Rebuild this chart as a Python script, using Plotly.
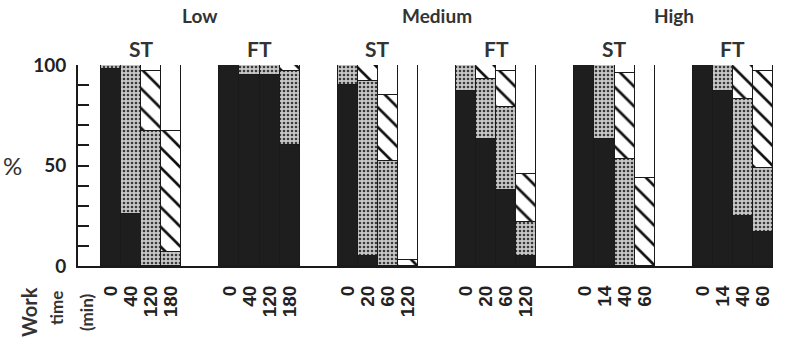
import plotly.graph_objects as go

# ---------------- data ----------------
levels = ["Low", "Medium", "High"]
fibres = ["ST", "FT"]
times_low = ["0", "40", "120", "180"]
times_med = ["0", "20", "60", "120"]
times_high = ["0", "14", "40", "60"]

# percent of fibres in each glycogen class (bottom -> top): dark, stippled, hatched, empty
low_st_dark = [98, 26, 0, 0]
low_st_dots = [2, 74, 67, 7]
low_st_hatch = [0, 0, 30, 60]
low_st_empty = [0, 0, 3, 33]

low_ft_dark = [100, 95, 95, 60]
low_ft_dots = [0, 5, 5, 37]
low_ft_hatch = [0, 0, 0, 3]
low_ft_empty = [0, 0, 0, 0]

med_st_dark = [90, 5, 0, 0]
med_st_dots = [10, 87, 52, 0]
med_st_hatch = [0, 8, 33, 3]
med_st_empty = [0, 0, 15, 97]

med_ft_dark = [87, 63, 38, 5]
med_ft_dots = [13, 30, 41, 17]
med_ft_hatch = [0, 7, 18, 24]
med_ft_empty = [0, 0, 3, 54]

high_st_dark = [100, 63, 0, 0]
high_st_dots = [0, 37, 53, 0]
high_st_hatch = [0, 0, 43, 44]
high_st_empty = [0, 0, 4, 56]

high_ft_dark = [100, 87, 25, 17]
high_ft_dots = [0, 13, 58, 32]
high_ft_hatch = [0, 0, 17, 48]
high_ft_empty = [0, 0, 0, 3]

y_ticks = list(range(0, 101, 10))
y_labels = ["0", "", "", "", "", "50", "", "", "", "", "100"]

panels = [
    (times_low, low_st_dark, low_st_dots, low_st_hatch, low_st_empty),
    (times_low, low_ft_dark, low_ft_dots, low_ft_hatch, low_ft_empty),
    (times_med, med_st_dark, med_st_dots, med_st_hatch, med_st_empty),
    (times_med, med_ft_dark, med_ft_dots, med_ft_hatch, med_ft_empty),
    (times_high, high_st_dark, high_st_dots, high_st_hatch, high_st_empty),
    (times_high, high_ft_dark, high_ft_dots, high_ft_hatch, high_ft_empty),
]

# ---------------- layout helpers ----------------
PITCH = 5.9          # panel pitch in bar widths
W, H = 800, 351
L, R, T, B = 78, 27, 65, 85
X0 = -1.15           # axis start (bar units)
X1 = 5 * PITCH + 4   # end of last panel
PW = W - L - R

xs, labels = [], []
dark, dots, hatch, empty = [], [], [], []
for g, (tl, d, s, h, e) in enumerate(panels):
    for j in range(4):
        xs.append(g * PITCH + j + 0.5)
        labels.append(tl[j])
    dark += d; dots += s; hatch += h; empty += e

line = dict(color="#1a1a1a", width=1.5)
fig = go.Figure()
fig.add_bar(x=xs, y=dark, width=1, marker=dict(color="#1e1e1e", line=line), name="dark")
fig.add_bar(x=xs, y=dots, width=1, marker=dict(color="#c4c4c4", line=line,
            pattern=dict(shape=".", fgcolor="#3a3a3a", bgcolor="#c8c8c8", size=4, solidity=0.35)), name="dots")
fig.add_bar(x=xs, y=hatch, width=1, marker=dict(color="white", line=line,
            pattern=dict(shape="\\", fgcolor="#111111", bgcolor="white", size=14, solidity=0.19)), name="hatch")
fig.add_bar(x=xs, y=empty, width=1, marker=dict(color="white", line=line), name="empty")

font_fam = "Lato, Open Sans, sans-serif"
fig.update_layout(
    width=W, height=H, barmode="stack", bargap=0, showlegend=False,
    template="none",
    plot_bgcolor="white", paper_bgcolor="white",
    margin=dict(l=L, r=R, t=T, b=B, pad=0),
    font=dict(family=font_fam, color="#222"),
)
fig.update_xaxes(range=[X0, X1], tickmode="array", tickvals=xs, ticktext=labels,
                 tickangle=-90, ticks="", showgrid=False, zeroline=False,
                 showline=True, linecolor="#1a1a1a", linewidth=2, mirror=False,
                 tickfont=dict(size=19, family="Liberation Sans, Arial", color="#222", weight="bold"),
                 ticklabelstandoff=10)
fig.update_yaxes(range=[0, 100], tickmode="array", tickvals=y_ticks, ticktext=y_labels,
                 ticks="inside", ticklen=11, tickwidth=2, tickcolor="#1a1a1a",
                 showgrid=False, zeroline=False, showline=True, linecolor="#1a1a1a",
                 linewidth=2, mirror=False, ticklabelstandoff=6,
                 tickfont=dict(size=19, family=font_fam, color="#222", weight="bold"))

def paper_y(py):
    return 1 - (py - T) / (H - T - B)

def paper_x(px):
    return (px - L) / PW

anns = []
for i, lev in enumerate(levels):
    cx = (i * 2 * PITCH + (i * 2 + 1) * PITCH + 4) / 2
    anns.append(dict(x=cx, xref="x", y=paper_y(15), yref="paper", yanchor="middle",
                     text=lev, showarrow=False, font=dict(size=19, weight="bold", color="#333")))
for g in range(6):
    cx = g * PITCH + 2
    anns.append(dict(x=cx, xref="x", y=paper_y(48), yref="paper", yanchor="middle",
                     text=fibres[g % 2], showarrow=False, font=dict(size=21, weight="bold", color="#333")))
anns.append(dict(x=paper_x(12), xref="paper", y=paper_y(165), yref="paper", xanchor="center",
                 yanchor="middle", text="%", showarrow=False, font=dict(size=24, color="#333")))
for txt, px, py, sz in [("Work", 29, 312, 20), ("time", 56, 308, 17), ("(min)", 86, 313, 17)]:
    anns.append(dict(x=paper_x(px), xref="paper", y=paper_y(py), yref="paper",
                     xanchor="center", yanchor="middle", text=txt,
                     textangle=-90, showarrow=False, font=dict(size=sz, weight="bold", color="#333")))
fig.update_layout(annotations=anns)

fig.write_html("out.html")
